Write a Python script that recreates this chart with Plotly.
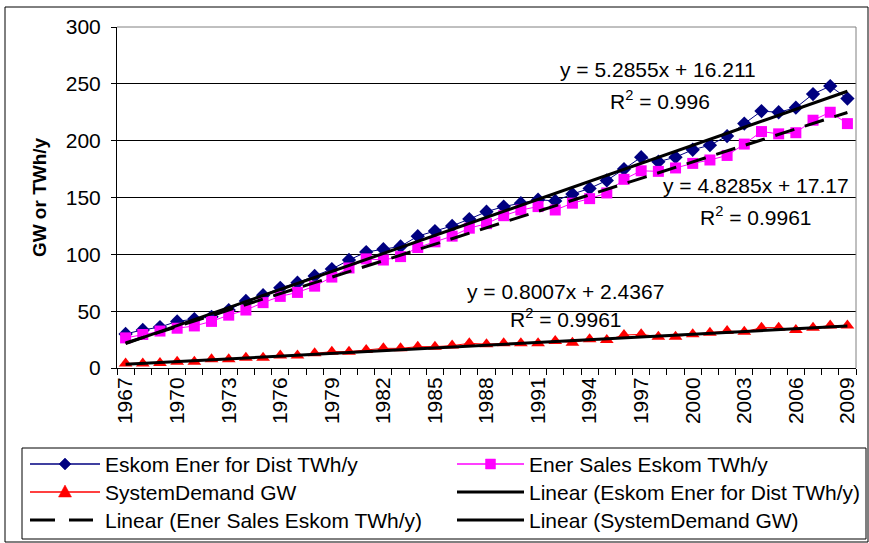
import plotly.graph_objects as go

# ---- data -----------------------------------------------------------------
years = list(range(1967, 2010))

eskom_dist_twh = [30, 33.5, 36, 41, 43, 45, 51, 59, 64, 70.5, 75, 81, 87, 95,
                  102, 104.5, 107, 116, 120.5, 125, 131, 137.5, 142, 145, 148,
                  147, 153, 158, 165, 175, 185.5, 181.5, 185.5, 192, 196, 204,
                  215, 226, 225, 229, 241, 248, 237]

ener_sales_twh = [26.5, 29.5, 32.5, 35, 37, 41, 46.5, 51, 57.5, 63, 66.5, 72,
                  80, 88, 96, 95, 98, 106, 111, 116, 123, 127, 134, 139, 142,
                  139, 145, 149, 154, 166, 173.5, 173, 176, 180, 183, 187, 197,
                  208, 206, 207, 218, 225, 215]

system_demand_gw = [4, 4, 4.5, 5.6, 5.6, 7.6, 7.6, 9.1, 9.1, 10.9, 10.9, 12.9,
                    14.4, 14.4, 15.8, 17.3, 17.3, 18.8, 18.8, 19.7, 21.7, 21,
                    21.7, 21.7, 21.7, 23.8, 22.3, 25.2, 24.6, 29, 29.6, 27.6,
                    27.6, 29.6, 31, 32.6, 31.8, 35.5, 35.5, 33.5, 35.5, 37.3,
                    37.3]

# linear trend coefficients (x = 1 for the first year) and R^2
trend_eskom = (5.2855, 16.211, "0.996")
trend_sales = (4.8285, 17.17, "0.9961")
trend_demand = (0.8007, 2.4367, "0.9961")

label_years = list(range(1967, 2010, 3))

series_names = ["Eskom Ener for Dist TWh/y", "Ener Sales Eskom TWh/y",
                "SystemDemand GW"]
trend_names = ["Linear (Eskom Ener for Dist TWh/y)",
               "Linear (Ener Sales Eskom TWh/y)",
               "Linear (SystemDemand GW)"]

FONT = "Arial, Liberation Sans, sans-serif"
NAVY, MAGENTA, RED = "#000080", "#FF00FF", "#FF0000"
SALES_DASH = "20px,11px"


def trend_values(coef):
    slope, intercept, _ = coef
    return [slope * (i + 1) + intercept for i in range(len(years))]


fig = go.Figure()

series = [
    (eskom_dist_twh, series_names[0], NAVY, "diamond", 11),
    (ener_sales_twh, series_names[1], MAGENTA, "square", 11),
    (system_demand_gw, series_names[2], RED, "triangle-up", 12),
]
for vals, name, col, sym, size in series:
    fig.add_trace(go.Scatter(
        x=years, y=vals, name=name, mode="lines+markers",
        line=dict(color=col, width=1),
        marker=dict(symbol=sym, size=size, color=col)))

trends = [
    (trend_eskom, trend_names[0], "solid"),
    (trend_sales, trend_names[1], SALES_DASH),
    (trend_demand, trend_names[2], "solid"),
]
for coef, name, dash in trends:
    fig.add_trace(go.Scatter(
        x=years, y=trend_values(coef), name=name, mode="lines",
        line=dict(color="black", width=3, dash=dash)))


def eq_text(coef):
    slope, intercept, _ = coef
    return f"y = {slope:g}x + {intercept:g}"


def r2_text(coef):
    return f"R<sup>2</sup> = {coef[2]}"


ann_specs = [
    (eq_text(trend_eskom), 1998.0, 263),
    (r2_text(trend_eskom), 1998.1, 236),
    (eq_text(trend_sales), 2003.7, 161),
    (r2_text(trend_sales), 2003.7, 134),
    (eq_text(trend_demand), 1992.6, 67),
    (r2_text(trend_demand), 1992.6, 44),
]
annotations = [dict(x=x, y=y, xref="x", yref="y", text=t, showarrow=False,
                    font=dict(family=FONT, size=21, color="black"))
               for t, x, y in ann_specs]

# ---- geometry (pixels) ----------------------------------------------------
W, H = 869, 543
L, R, T, B = 117, 13, 27, 175
pw, ph = W - L - R, H - T - B


def px_x(p):
    return (p - L) / pw


def px_y(p):
    return (H - B - p) / ph


def pt(px, py):
    return f"{px_x(px):.5f},{px_y(py):.5f}"


shapes = [
    # plot-area frame (top and right edges)
    dict(type="line", xref="paper", yref="paper", x0=0, x1=1, y0=1, y1=1,
         line=dict(color="#808080", width=1), layer="above"),
    dict(type="line", xref="paper", yref="paper", x0=1, x1=1, y0=0, y1=1,
         line=dict(color="#808080", width=1), layer="above"),
    # chart frame
    dict(type="rect", xref="paper", yref="paper", x0=px_x(5), x1=px_x(868),
         y0=px_y(542), y1=px_y(7), line=dict(color="black", width=1)),
    # legend box
    dict(type="rect", xref="paper", yref="paper", x0=px_x(22), x1=px_x(866),
         y0=px_y(539), y1=px_y(448), line=dict(color="black", width=1),
         fillcolor="white"),
]


def glyph(kind, cx, cy, col):
    if kind == "diamond":
        d = (f"M{pt(cx, cy - 6)} L{pt(cx + 6, cy)} L{pt(cx, cy + 6)} "
             f"L{pt(cx - 6, cy)} Z")
    elif kind == "square":
        d = (f"M{pt(cx - 5, cy - 5)} L{pt(cx + 5, cy - 5)} "
             f"L{pt(cx + 5, cy + 5)} L{pt(cx - 5, cy + 5)} Z")
    else:
        d = f"M{pt(cx, cy - 7)} L{pt(cx + 6.5, cy + 5)} L{pt(cx - 6.5, cy + 5)} Z"
    return dict(type="path", xref="paper", yref="paper", path=d,
                fillcolor=col, line=dict(color=col, width=0.5))


# legend entries: (label, colour, line width, dash, glyph)
legend_items = [
    (series_names[0], NAVY, 1.5, "solid", "diamond"),
    (series_names[1], MAGENTA, 1.5, "solid", "square"),
    (series_names[2], RED, 1.5, "solid", "triangle"),
    (trend_names[0], "black", 3, "solid", None),
    (trend_names[1], "black", 3, "dash", None),
    (trend_names[2], "black", 3, "solid", None),
]
col_x = [(30, 100, 103), (457, 524, 527)]
row_y = [464, 492, 520]

for i, (label, col, lw, dash, g) in enumerate(legend_items):
    x0, x1, tx = col_x[i % 2]
    yy = row_y[i // 2]
    if dash == "dash":
        for a, b in ((30, 55), (69, 93)):
            shapes.append(dict(type="line", xref="paper", yref="paper",
                               x0=px_x(x0 + a - 30), x1=px_x(x0 + b - 30),
                               y0=px_y(yy), y1=px_y(yy),
                               line=dict(color=col, width=lw)))
    else:
        shapes.append(dict(type="line", xref="paper", yref="paper",
                           x0=px_x(x0), x1=px_x(x1), y0=px_y(yy), y1=px_y(yy),
                           line=dict(color=col, width=lw)))
    if g:
        shapes.append(glyph(g, (x0 + x1) / 2, yy, col))
    annotations.append(dict(x=px_x(tx), y=px_y(yy), xref="paper",
                            yref="paper", xanchor="left", yanchor="middle",
                            text=label, showarrow=False,
                            font=dict(family=FONT, size=21, color="black")))

fig.update_layout(
    width=W, height=H,
    margin=dict(l=L, r=R, t=T, b=B),
    paper_bgcolor="white", plot_bgcolor="white",
    font=dict(family=FONT, size=21, color="black"),
    showlegend=False,
    annotations=annotations,
    shapes=shapes,
    xaxis=dict(
        range=[1966.5, 2009.5], tickmode="array", tickvals=label_years,
        ticktext=[str(y) for y in label_years], tickangle=-90,
        ticks="", showgrid=False, zeroline=False,
        showline=True, linecolor="black", linewidth=1,
        tickfont=dict(family=FONT, size=21),
        minor=dict(tick0=1966.5, dtick=1, ticks="outside", ticklen=6,
                   tickcolor="black", showgrid=False)),
    yaxis=dict(
        range=[0, 300], dtick=50, ticks="outside", ticklen=5,
        tickcolor="black", showgrid=True, gridcolor="black", gridwidth=1,
        zeroline=False, showline=True, linecolor="black", linewidth=1,
        ticklabelstandoff=6,
        tickfont=dict(family=FONT, size=21),
        title=dict(text="<b>GW or TWh/y</b>", font=dict(family=FONT, size=19),
                   standoff=14)),
)

fig.write_html("out.html")
